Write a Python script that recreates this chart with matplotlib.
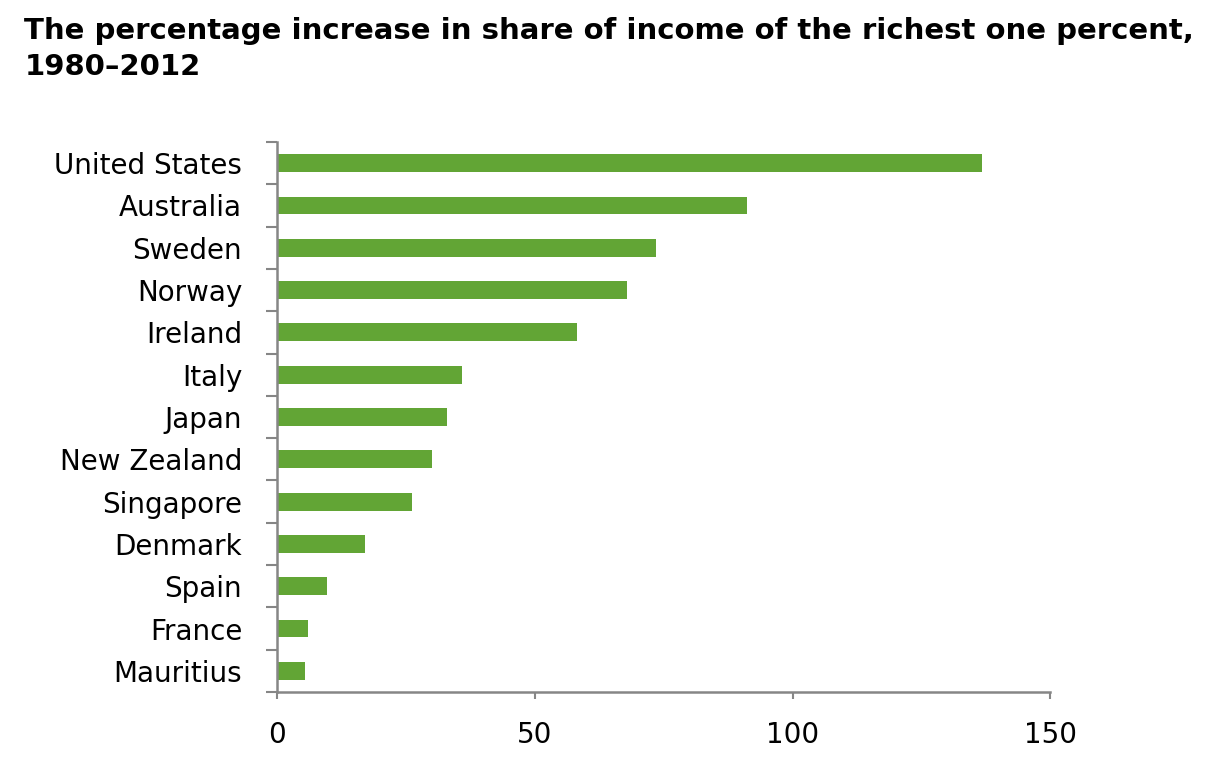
import matplotlib
matplotlib.use("Agg")
import matplotlib.pyplot as plt
import numpy as np

countries = ["United States", "Australia", "Sweden", "Norway", "Ireland", "Italy",
             "Japan", "New Zealand", "Singapore", "Denmark", "Spain", "France", "Mauritius"]
increase = [136.7, 91.2, 73.5, 67.9, 58.2, 35.9, 33.0, 30.1, 26.2, 17.1, 9.7, 6.0, 5.4]
x_ticks = [0, 50, 100, 150]

# the reference text is wide, DejaVu matches its extent better than Arial
plt.rcParams["font.family"] = ["DejaVu Sans"]
GRAY = "#868686"

fig = plt.figure(figsize=(12.2, 7.63), dpi=100)
ax = fig.add_axes([0.227, 0.093, 0.634, 0.721])

y = np.arange(len(countries))[::-1]
ax.barh(y, increase, height=0.42, color="#62a535")

ax.set_xlim(0, 150)
ax.set_ylim(-0.5, len(countries) - 0.5)
ax.set_xticks(x_ticks)
ax.set_xticklabels([str(t) for t in x_ticks], fontsize=20)
ax.set_yticks(y)
ax.set_yticklabels(countries, fontsize=20)
ax.set_yticks(np.arange(len(countries) + 1) - 0.5, minor=True)

ax.tick_params(axis="y", which="major", length=0, pad=25)
ax.tick_params(axis="y", which="minor", length=8, width=1.5, color=GRAY, direction="out")
ax.tick_params(axis="x", length=5, width=1.5, color=GRAY, direction="out", pad=16)

for s in ["top", "right"]:
    ax.spines[s].set_visible(False)
for s in ["left", "bottom"]:
    ax.spines[s].set_color(GRAY)
    ax.spines[s].set_linewidth(1.8)

fig.text(0.02, 0.978, "The percentage increase in share of income of the richest one percent,\n1980\u20132012",
         fontsize=21, fontweight="bold", va="top", ha="left", linespacing=1.38)

fig.savefig("out.png", dpi=100)
